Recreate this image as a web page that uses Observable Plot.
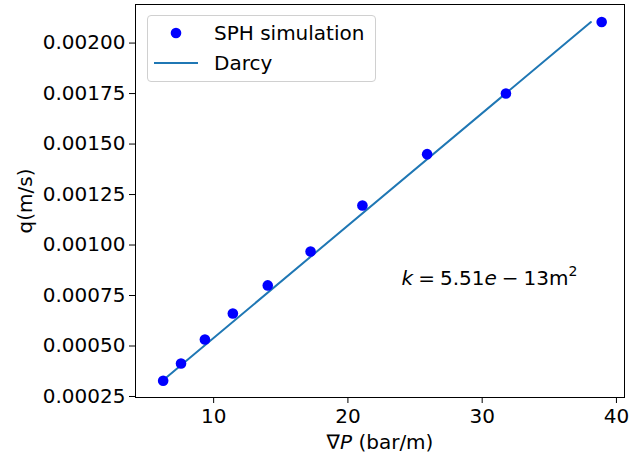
<!DOCTYPE html>
<html>
<head>
<meta charset="utf-8">
<script src="https://cdn.jsdelivr.net/npm/d3@7"></script>
<script src="https://cdn.jsdelivr.net/npm/@observablehq/plot@0.6"></script>
<style>
  html, body { margin: 0; padding: 0; background: #fff; }
  #wrap { position: relative; width: 630px; height: 457px; font-family: "DejaVu Sans", sans-serif; }
  #legend { position: absolute; left: 147px; top: 15px; width: 227px; height: 65px;
            border: 1px solid #d0d0d0; border-radius: 4px; background: rgba(255,255,255,0.8);
            font-size: 20px; color: #000; }
  .row { position: absolute; left: 0; height: 24px; display: flex; align-items: center; }
  .row svg { display: block; }
  .row span { position: absolute; left: 66px; white-space: nowrap; line-height: 24px; }
</style>
</head>
<body>
<div id="wrap"></div>
<script>
// pressure gradient (bar/m) of each SPH run
const gradP = [6.24, 7.57, 9.35, 11.43, 14.03, 17.22, 21.08, 25.9, 31.77, 38.9];
// Darcy velocity q (m/s) from SPH simulation
const qSPH = [0.000328, 0.000413, 0.000532, 0.000661, 0.0008, 0.000968, 0.001196, 0.00145, 0.00175, 0.002104];
// Darcy fit line end points
const darcyX = [6.1, 38.1];
const darcyQ = [0.000323, 0.002104];
// ticks
const xTicks = [10, 20, 30, 40];
const yTicks = [0.00025, 0.0005, 0.00075, 0.001, 0.00125, 0.0015, 0.00175, 0.002];
// labels
const seriesNames = ["SPH simulation", "Darcy"];
const xLabel = "∇P (bar/m)";
const yLabel = "q(m/s)";
const annX = 24, annY = 0.0008;
const annText = "k = 5.51e − 13m2";

const sph = gradP.map((x, i) => ({x, q: qSPH[i]}));
const darcy = darcyX.map((x, i) => ({x, q: darcyQ[i]}));

const plot = Plot.plot({
  width: 630,
  height: 457,
  marginLeft: 135,
  marginRight: 6,
  marginTop: 4,
  marginBottom: 60,
  style: {fontFamily: "DejaVu Sans", fontSize: "20px", color: "#000", background: "#fff", overflow: "visible"},
  x: {domain: [4.18, 40.6]},
  y: {domain: [0.000245, 0.002191]},
  marks: [
    Plot.axisX({ticks: xTicks, tickSize: 6, tickPadding: 5, label: null, tickFormat: d => String(d)}),
    Plot.axisY({ticks: yTicks, tickSize: 6, tickPadding: 4, label: null, tickFormat: d => d.toFixed(5)}),
    Plot.line(darcy, {x: "x", y: "q", stroke: "#1f77b4", strokeWidth: 2}),
    Plot.dot(sph, {x: "x", y: "q", r: 5.3, fill: "#0000ff", stroke: null}),
    Plot.text([annText], {x: () => annX, y: () => annY, text: d => d, textAnchor: "start", lineAnchor: "bottom"}),
    Plot.text([xLabel], {frameAnchor: "bottom", dy: 51, textAnchor: "middle", lineAnchor: "bottom", text: d => d}),
    Plot.text([yLabel], {frameAnchor: "left", rotate: -90, dx: -104, textAnchor: "middle", lineAnchor: "bottom", text: d => d}),
    Plot.frame({stroke: "#000", strokeWidth: 1})
  ]
});

document.getElementById("wrap").appendChild(plot);

// rich text: italics and superscript
for (const t of plot.querySelectorAll("text")) {
  const s = t.textContent;
  if (s === annText) {
    t.textContent = "";
    const parts = [["k", "italic"], ["\u2005=\u20055.51", null], ["e", "italic"], ["\u2005−\u200513m", null], ["2", "sup"]];
    for (const [txt, kind] of parts) {
      const ts = document.createElementNS("http://www.w3.org/2000/svg", "tspan");
      ts.textContent = txt;
      if (kind === "italic") ts.setAttribute("font-style", "italic");
      if (kind === "sup") { ts.setAttribute("font-size", "14px"); ts.setAttribute("dy", "-9"); }
      t.appendChild(ts);
    }
  } else if (s === xLabel) {
    t.textContent = "";
    const parts = [["∇", null], ["P", "italic"], [" (bar/m)", null]];
    for (const [txt, kind] of parts) {
      const ts = document.createElementNS("http://www.w3.org/2000/svg", "tspan");
      ts.textContent = txt;
      if (kind === "italic") ts.setAttribute("font-style", "italic");
      t.appendChild(ts);
    }
  }
}

// legend overlay
const legend = document.createElement("div");
legend.id = "legend";
legend.innerHTML = `
  <div class="row" style="top:5px">
    <svg width="60" height="24"><circle cx="28" cy="12" r="5.3" fill="#0000ff"></circle></svg>
    <span>${seriesNames[0]}</span>
  </div>
  <div class="row" style="top:35px">
    <svg width="60" height="24"><line x1="6" x2="50" y1="12" y2="12" stroke="#1f77b4" stroke-width="2"></line></svg>
    <span>${seriesNames[1]}</span>
  </div>`;
document.getElementById("wrap").appendChild(legend);
</script>
</body>
</html>
